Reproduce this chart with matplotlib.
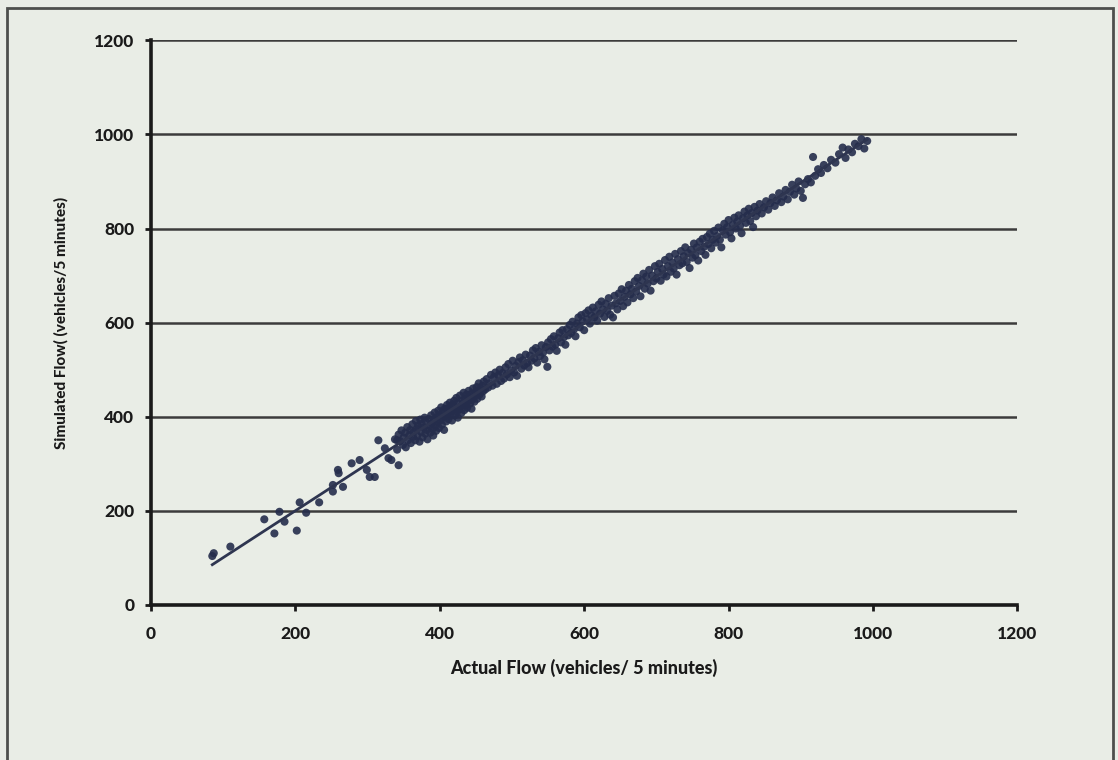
import numpy as np
import matplotlib
import matplotlib.pyplot as plt
from matplotlib.patches import Rectangle

matplotlib.use('Agg')

# Fluxo real x fluxo simulado (veiculos / 5 minutos)
actual_flow = [
    85, 87, 110, 157, 171, 178, 185, 202, 206, 215, 233, 252, 252, 259, 260, 266, 278, 289, 299,
    303, 310, 315, 324, 329, 333, 341, 343,
    338, 341, 343, 345, 347, 349, 350, 352, 353, 355, 356, 358, 359, 360, 362, 363, 364, 366, 367,
    368, 369, 370, 372, 373, 374, 375, 376, 378, 379, 380, 381, 382, 383, 385, 386, 387, 388, 389,
    390, 391, 392, 393, 394, 395, 396, 397, 398, 399, 400, 401, 402, 403, 404, 405, 406, 407, 408,
    409, 410, 411, 412, 413, 414, 415, 416, 417, 418, 419, 420, 421, 422, 423, 424, 425, 426, 427,
    428, 429, 430, 431, 432, 433, 434, 435, 436, 437, 438, 439, 440, 441, 442, 443, 444, 445, 446,
    447, 448, 449, 450, 451, 452, 453, 454, 455, 457, 458, 459, 460,
    461, 463, 465, 467, 469, 471, 473, 475, 477, 479, 481, 483, 485, 487, 489, 491, 493, 495, 497,
    499, 501, 503, 505, 507, 509, 511, 513, 515, 517, 519, 521, 523, 525, 527, 529, 531, 533, 535,
    537, 539, 541, 543, 545, 547, 549, 550, 552, 554, 556, 558, 560, 562, 564, 566, 568, 570, 572,
    574, 576, 578, 580, 582, 584, 586, 588, 590, 592, 594, 596, 598,
    600, 602, 604, 606, 608, 610, 612, 614, 616, 618, 620, 622, 624, 626, 628, 630, 632, 634, 636,
    638, 640, 642, 644, 646, 648, 650, 652, 654, 656, 658, 660, 662, 664, 666, 668, 670, 672, 674,
    676, 678, 680, 682, 684, 686, 688, 690, 692, 694, 696, 698, 700, 702, 704, 706, 708, 710, 712,
    714, 716, 718, 720, 722, 724, 726, 728, 730, 732, 734, 736, 738, 740, 742, 744, 746, 748, 750,
    752, 754, 756, 758, 760,
    762, 764, 766, 768, 770, 772, 774, 776, 778, 780, 782, 784, 786, 788, 790, 792, 794, 796, 798,
    800, 802, 804, 806, 808, 810, 812, 814, 816, 818, 820, 822, 824, 826, 828, 830, 832, 834, 836,
    838, 840, 843, 846, 849, 852, 855, 858, 861, 864, 867, 870, 873, 876, 879, 882, 885, 888, 891,
    894, 897, 900,
    903, 906, 910, 914, 917, 920, 924, 928, 932, 937, 942, 948, 953, 958, 962, 966, 971, 975, 980,
    984, 988, 992,
]
simulated_flow = [
    104, 110, 124, 182, 152, 198, 177, 158, 218, 196, 218, 241, 255, 287, 280, 251, 301, 308, 287,
    272, 272, 350, 333, 312, 308, 350, 297,
    352, 330, 362, 348, 371, 340, 356, 366, 335, 378, 350, 361, 372, 344, 384, 357, 368, 350, 391,
    374, 360, 381, 347, 394, 368, 385, 356, 377, 398, 364, 389, 372, 352, 395, 380, 366, 403, 386,
    374, 360, 394, 409, 382, 370, 399, 388, 413, 376, 404, 392, 420, 383, 398, 410, 372, 417, 402,
    390, 425, 407, 395, 419, 430, 404, 412, 392, 426, 415, 434, 403, 420, 440, 411, 398, 428, 416,
    445, 422, 408, 435, 427, 451, 414, 438, 425, 447, 419, 432, 455, 441, 428, 448, 417, 436, 460,
    442, 432, 452, 446, 463, 438, 455, 471, 447, 460, 443, 466, 454,
    475, 458, 480, 462, 471, 489, 466, 484, 494, 470, 488, 500, 476, 493, 481, 505, 490, 512, 484,
    498, 519, 494, 508, 487, 516, 526, 502, 520, 509, 532, 514, 505, 530, 519, 541, 524, 546, 515,
    538, 529, 552, 536, 522, 548, 506, 558, 541, 565, 549, 571, 553, 540, 567, 579, 558, 584, 569,
    553, 586, 573, 595, 578, 602, 586, 571, 598, 611, 590, 616, 603,
    584, 620, 607, 626, 598, 615, 632, 611, 624, 604, 638, 619, 645, 628, 612, 640, 625, 652, 617,
    636, 611, 657, 641, 628, 662, 646, 671, 635, 655, 668, 643, 680, 660, 672, 652, 688, 666, 695,
    678, 656, 690, 704, 672, 698, 683, 712, 668, 700, 688, 720, 694, 708, 725, 689, 714, 702, 733,
    698, 720, 740, 708, 728, 715, 746, 702, 735, 722, 752, 726, 741, 760, 729, 748, 716, 755, 738,
    768, 743, 760, 732, 772,
    752, 778, 761, 744, 782, 767, 789, 758, 776, 795, 770, 784, 802, 776, 760, 796, 810, 787, 803,
    818, 792, 779, 808, 823, 800, 815, 828, 806, 790, 822, 836, 812, 828, 842, 816, 833, 803, 846,
    826, 838, 852, 832, 845, 858, 840, 854, 866, 848, 860, 875, 856, 868, 882, 862, 878, 893, 872,
    885, 900, 880,
    865, 894, 905, 898, 952, 912, 926, 918, 935, 928, 946, 940, 958, 972, 950, 968, 962, 980, 975,
    990, 970, 986,
]

x_ticks = [0, 200, 400, 600, 800, 1000, 1200]
y_ticks = [0, 200, 400, 600, 800, 1000, 1200]

bg = '#e9ede6'
dot = '#252d4c'
ink = '#1a1a1a'

fig = plt.figure(figsize=(11.18, 7.6), dpi=100, facecolor=bg)
ax = fig.add_axes([0.135, 0.204, 0.775, 0.743])
ax.set_facecolor(bg)

# moldura em volta do grafico
fig.patches.append(Rectangle((7 / 1118, -0.05), 1106 / 1118, 1.05 - 8 / 760,
                             transform=fig.transFigure, fill=False,
                             edgecolor='#4d4f4d', linewidth=2))

ax.scatter(actual_flow, simulated_flow, s=34, color=dot, edgecolors='none', alpha=0.9, zorder=3)

# linha de tendencia linear
coef = np.polyfit(actual_flow, simulated_flow, 1)
xs = np.array([min(actual_flow), max(actual_flow)])
ax.plot(xs, np.polyval(coef, xs), color='#2e3550', linewidth=2, zorder=4)

ax.set_xlim(0, 1200)
ax.set_ylim(0, 1200)
ax.set_xticks(x_ticks)
ax.set_yticks(y_ticks)
ax.yaxis.grid(True, color='#3c3c3c', linewidth=1.8)
ax.set_axisbelow(True)

for side in ['top', 'right']:
    ax.spines[side].set_visible(False)
for side in ['left', 'bottom']:
    ax.spines[side].set_linewidth(2.6)
    ax.spines[side].set_color(ink)

ax.tick_params(axis='both', direction='out', length=4, width=2, color=ink)
ax.tick_params(axis='x', pad=11)
ax.tick_params(axis='y', pad=8)
for lbl in ax.get_xticklabels() + ax.get_yticklabels():
    lbl.set_fontfamily('Lato')
    lbl.set_fontweight('black')
    lbl.set_fontsize(12.5)
    lbl.set_color(ink)

ax.set_xlabel('Actual Flow (vehicles/ 5 minutes)', fontfamily='Lato', fontweight='black',
              fontsize=13, color=ink, labelpad=12)
ax.set_ylabel('Simulated Flow( (vehicles/5 minutes)', fontfamily='Lato', fontweight='black',
              fontsize=11, color=ink, labelpad=18)

plt.savefig('out.png', dpi=100, facecolor=bg)
